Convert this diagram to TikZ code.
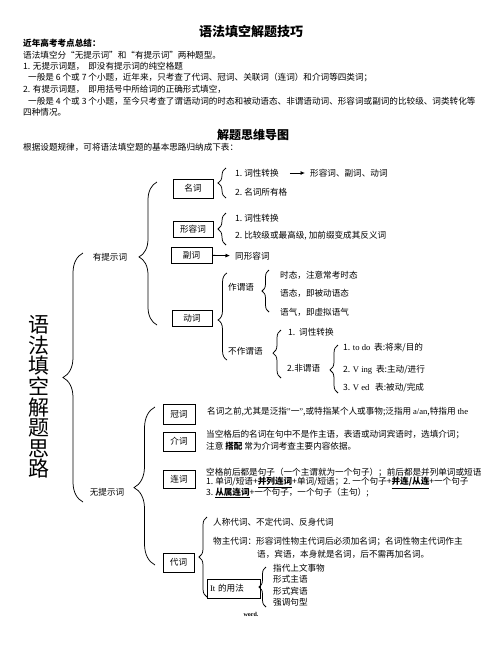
\documentclass[tikz,border=0pt]{standalone}
\usepackage{fontspec}
\setmainfont{Noto Sans CJK SC}
\newfontfamily\lat{Liberation Serif}
\usetikzlibrary{decorations.pathreplacing,arrows.meta}
\newcommand\fs{\fontsize{8.6}{10.3}\selectfont}
\newcommand\ulb[1]{\underline{\textbf{#1}}}
\begin{document}
\begin{tikzpicture}[x=1pt,y=-1pt,
  t/.style={anchor=west,inner sep=0pt,font=\fs},
  box/.style={draw,line width=0.8pt,inner sep=0pt,font=\fs},
  br/.style 2 args={decorate,decoration={brace,amplitude=#1,aspect=#2},line width=0.75pt},
  arr/.style={-{Latex[length=4.5pt,width=4pt]},line width=0.8pt}]
\useasboundingbox[fill=white] (0,0) rectangle (502,649);
% ---------- header ----------
\node[inner sep=0pt,font=\fontsize{13}{14}\selectfont\bfseries] (title) at (251,32) {语法填空解题技巧};
\node[t,font=\fs\bfseries] (h0) at (23,43) {近年高考考点总结：};
\node[t] (h1) at (23,55) {语法填空分“无提示词”和“有提示词”两种题型。};
\node[t] (h2) at (23,66) {1. 无提示词题，\ \ 即没有提示词的纯空格题};
\node[t] (h3) at (28,78) {一般是 6 个或 7 个小题，近年来，只考查了代词、冠词、关联词（连词）和介词等四类词；};
\node[t] (h4) at (23,89) {2. 有提示词题，\ \ 即用括号中所给词的正确形式填空，};
\node[t] (h5) at (28,101) {一般是 4 个或 3 个小题，至今只考查了谓语动词的时态和被动语态、非谓语动词、形容词或副词的比较级、词类转化等};
\node[t] (h6) at (23,112) {四种情况。};
\node[inner sep=0pt,font=\fontsize{12}{13}\selectfont\bfseries] (sub) at (253,135) {解题思维导图};
\node[t] (h7) at (23,147) {根据设题规律，可将语法填空题的基本思路归纳成下表：};
% ---------- root ----------
\node[inner sep=0pt,align=center,font=\fontsize{21}{20.6}\selectfont] (root) at (39,397) {语\\法\\填\\空\\解\\题\\思\\路};
\draw[br={20pt}{0.5}] (83,502) -- (83,253);
\node[inner sep=0pt,font=\fs] (yt) at (110,257) {有提示词};
\node[inner sep=0pt,font=\fs] (wt) at (107,492) {无提示词};
\draw[br={18pt}{0.476}] (157,325) -- (157,182);
\draw[br={21pt}{0.49}] (155,565) -- (155,407);
% ---------- 有提示词 ----------
\node[box,minimum width=40pt,minimum height=19pt] (mc) at (193,188.5) {名词};
\draw[br={8pt}{0.5}] (226,198) -- (226,168);
\node[t] (m1) at (235,173) {1.\ 词性转换};
\node[t] (m1b) at (310,173) {形容词、副词、动词};
\draw[arr,shorten <=11pt,shorten >=5pt] (m1) -- (m1b);
\node[t] (m2) at (235,192) {2.\ 名词所有格};
\node[box,minimum width=40pt,minimum height=16pt] (xrc) at (193,229.5) {形容词};
\draw[br={8pt}{0.5}] (226,245) -- (226,213);
\node[t] (x1) at (235,218) {1.\ 词性转换};
\node[t] (x2) at (235,236) {2.\ 比较级或最高级, 加前缀变成其反义词};
\node[box,minimum width=41pt,minimum height=16pt] (fc) at (191.5,255) {副词};
\node[t] (fa) at (235,256) {同形容词};
\draw[arr,shorten >=5pt] (fc) -- (fa);
\node[box,minimum width=40pt,minimum height=16pt] (dc) at (192,318) {动词};
\draw[br={9pt}{0.46}] (227,360) -- (227,273);
\node[t] (zw) at (228,287) {作谓语};
\draw[br={7pt}{0.5}] (269,312) -- (269,270);
\node[t] (s1) at (280,275) {时态，注意常考时态};
\node[t] (s2) at (280,293) {语态，即被动语态};
\node[t] (s3) at (280,312) {语气，即虚拟语气};
\node[t] (bz) at (228,351) {不作谓语};
\draw[br={8pt}{0.52}] (281,378) -- (281,330);
\node[t] (c1) at (288,332) {1.\ \ 词性转换};
\node[t] (c2) at (287,368) {2.非谓语};
\draw[br={8pt}{0.48}] (338,393) -- (338,345);
\node[t] (f1) at (343,348) {1. {\lat to do}\ \ 表:将来/目的};
\node[t] (f2) at (343,370) {2. {\lat V ing}\ \ 表:主动/进行};
\node[t] (f3) at (343,388) {3. {\lat V ed}\ \ \ 表:被动/完成};
% ---------- 无提示词 ----------
\node[box,minimum width=32pt,minimum height=20pt] (gc) at (179,414) {冠词};
\node[t] (g1) at (207,412) {名词之前,尤其是泛指{\lat ”}一{\lat ”},或特指某个人或事物;泛指用 {\lat a/an},特指用 {\lat the}};
\node[box,minimum width=32pt,minimum height=19pt] (jc) at (179,441.5) {介词};
\node[t] (j1) at (206,435) {当空格后的名词在句中不是作主语，表语或动词宾语时，选填介词；};
\node[t] (j2) at (206,446) {注意 \textbf{搭配} 常为介词考查主要内容依据。};
\node[box,minimum width=32pt,minimum height=18pt] (lc) at (179,479) {连词};
\node[t] (l1) at (206,473) {空格前后都是句子（一个主谓就为一个句子）；前后都是并列单词或短语};
\node[t] (l2) at (206,483) {1.\ 单词/短语+\ulb{并列连词}+单词/短语；2.\ 一个句子+\ulb{并连/从连}+一个句子};
\node[t] (l3) at (206,493) {3.\ \ulb{从属连词}+一个句子，一个句子（主句）;};
\node[box,minimum width=31pt,minimum height=19pt] (dcc) at (178.5,562.5) {代词};
\draw[br={8pt}{0.5}] (207,597) -- (207,517);
\node[t] (d1) at (213,522) {人称代词、不定代词、反身代词};
\node[t] (d2) at (213,542) {物主代词：形容词性物主代词后必须加名词；名词性物主代词作主};
\node[t] (d3) at (257,554) {语，宾语，本身就是名词，后不需再加名词。};
\node[box,minimum width=53pt,minimum height=19pt,text width=47pt,align=left] (itc) at (233.5,588.5) {{\lat It} 的用法};
\draw[br={7pt}{0.5}] (266,607) -- (266,567);
\node[t] (i1) at (273,568) {指代上文事物};
\node[t] (i2) at (273,579) {形式主语};
\node[t] (i3) at (273,591) {形式宾语};
\node[t] (i4) at (273,602) {强调句型};
\node[inner sep=0pt,font=\fontsize{6}{7}\selectfont\bfseries\lat] (wd) at (251,614) {word.};
\end{tikzpicture}
\end{document}
